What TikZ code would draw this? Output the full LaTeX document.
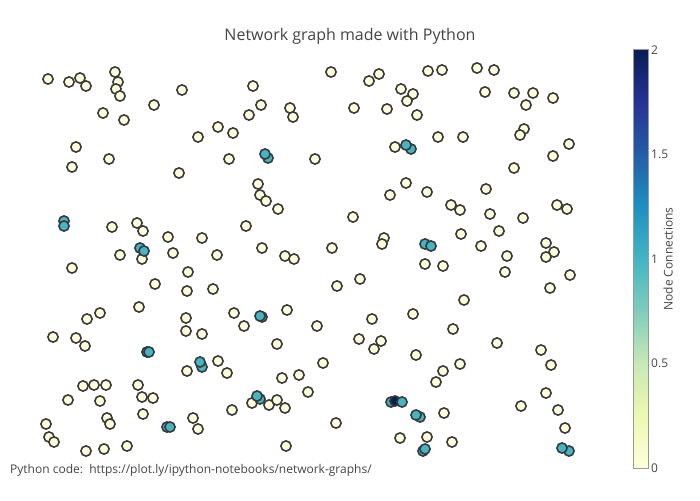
\documentclass[tikz,border=0pt]{standalone}
\usepackage{fontspec}
\setmainfont{Open Sans}
\usepackage{tikz}

\definecolor{ygb0}{HTML}{FFFFD9}
\definecolor{ygb1}{HTML}{EDF8B1}
\definecolor{ygb2}{HTML}{C7E9B4}
\definecolor{ygb3}{HTML}{7FCDBB}
\definecolor{ygb4}{HTML}{41B6C4}
\definecolor{ygb5}{HTML}{1D91C0}
\definecolor{ygb6}{HTML}{225EA8}
\definecolor{ygb7}{HTML}{253494}
\definecolor{ygb8}{HTML}{081D58}
\definecolor{rim}{HTML}{3A3A3A}
\definecolor{txt}{HTML}{444444}
\definecolor{barline}{HTML}{999999}

\begin{document}
\begin{tikzpicture}[x=1pt,y=-1pt,
        dot/.style={circle,draw=rim,line width=1.6pt,minimum size=10.2pt,inner sep=0pt},
        none/.style={dot,fill=ygb0},
        one/.style={dot,fill=ygb4},
        two/.style={dot,fill=ygb8},
        lbl/.style={text=txt,font=\fontsize{12}{14}\selectfont}]
        \useasboundingbox (0,0) rectangle (700,500);

        % The title
        \node[text=txt,font=\fontsize{16}{19}\selectfont] (title) at (350,36) {Network graph made with Python};

        % The nodes with no connection
        \foreach \x/\y [count=\i] in {48/79, 69/82, 80/78, 86/86, 115/72, 118/82, 116/89, 120/96,
            182/90, 154/105, 103/113, 124/120, 218/127, 198/137, 76/147, 109/159, 72/167, 179/173,
            112/227, 137/223, 143/231, 168/237, 202/238, 120/255, 142/259, 173/253, 217/255,
            331/72, 379/74, 369/81, 401/89, 253/86, 261/105, 249/115, 290/108, 293/117, 354/108,
            387/109, 233/133, 229/159, 315/159, 395/147, 258/184, 260/195, 266/201, 278/209,
            390/195, 353/217, 246/226, 384/238, 382/244, 262/248, 332/248, 285/256, 294/259,
            428/71, 442/70, 477/68, 494/70, 413/94, 407/101, 417/115, 485/92, 514/93, 533/93,
            553/98, 526/105, 438/137, 463/137, 524/129, 520/135, 569/144, 553/156, 514/168,
            406/183, 427/192, 486/189, 451/205, 460/210, 490/214, 523/218, 557/205, 567/209,
            461/234, 499/231, 481/246, 546/243, 554/252, 507/256, 546/257,
            72/268, 188/272, 155/284, 187/291, 213/289, 139/307, 100/313, 87/319, 186/318,
            186/331, 202/334, 53/337, 76/338, 85/346, 218/361, 187/371, 83/386, 94/385, 106/385,
            138/385, 142/397, 153/398, 68/400, 100/401, 143/414, 107/418, 110/424, 46/424,
            193/418, 198/429, 49/437, 54/442, 86/451, 104/449, 127/446,
            360/279, 337/286, 234/313, 287/310, 244/326, 317/326, 372/319, 277/344, 359/339,
            381/341, 374/349, 227/373, 282/378, 299/375, 323/363, 308/392, 252/403, 269/405,
            277/400, 285/408, 232/410, 336/423, 286/446, 400/438,
            425/264, 443/266, 505/272, 570/275, 550/288, 464/300, 413/314, 453/329, 497/343,
            541/350, 551/365, 416/355, 460/364, 443/371, 436/382, 546/393, 521/406, 558/410,
            565/428, 444/413, 427/437, 452/442}
            \node[none] (c\i) at (\x,\y) {};

        % The nodes with one connection
        \foreach \x/\y [count=\i] in {64/221, 64/226, 140/248, 144/251, 268/158, 265/154,
            411/149, 406/145, 147/352, 149/352, 202/367, 200/362, 167/427, 170/427,
            260/399, 257/396, 420/417, 416/415, 425/244, 431/246, 423/451, 425/449,
            569/451, 562/448, 262/317, 260/316}
            \node[one] (t\i) at (\x,\y) {};

        % The cluster around the node with two connections
        \node[one] (t27) at (391,402) {};
        \node[two] (d1) at (395,401) {};
        \node[one] (t28) at (402,402) {};

        % The colour bar
        \foreach \lo/\hi [count=\i from 0] in {ygb0/ygb1, ygb1/ygb2, ygb2/ygb3, ygb3/ygb4,
            ygb4/ygb5, ygb5/ygb6, ygb6/ygb7, ygb7/ygb8}
            \shade[bottom color=\lo,top color=\hi] (633,{468-52.25*\i+0.3}) rectangle (648,{468-52.25*(\i+1)-0.3});
        \draw[barline,line width=1pt] (633,50) rectangle (648,468);

        % The labels of the colour bar
        \node[lbl,anchor=west,inner sep=2pt] (tick2) at (649,50) {2};
        \node[lbl,anchor=west,inner sep=2pt] (tick15) at (649,154.5) {1.5};
        \node[lbl,anchor=west,inner sep=2pt] (tick1) at (649,259) {1};
        \node[lbl,anchor=west,inner sep=2pt] (tick05) at (649,363.5) {0.5};
        \node[lbl,anchor=west,inner sep=2pt] (tick0) at (649,468) {0};
        \node[lbl,rotate=90] (bartitle) at (668,259) {Node Connections};

        % The source line
        \node[lbl,anchor=west,inner sep=0pt] (source) at (10,470) {Python code:\ \ https://plot.ly/ipython-notebooks/network-graphs/};
    \end{tikzpicture}
\end{document}
